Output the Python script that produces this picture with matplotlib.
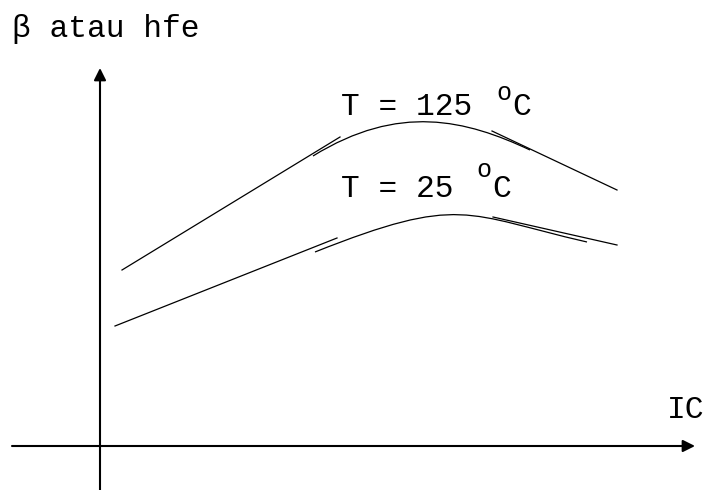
import matplotlib
matplotlib.use('Agg')
import matplotlib.pyplot as plt
from matplotlib.path import Path
from matplotlib.patches import PathPatch

# hfe vs IC sketch, arbitrary units (origin where the two axes cross)
# T = 125 C
hot_rise_ic = [22, 240]
hot_rise_hfe = [176, 309]
hot_bend_ic = [213, 299, 366, 430]
hot_bend_hfe = [290, 343, 326, 296]
hot_fall_ic = [392, 517]
hot_fall_hfe = [315, 256]

# T = 25 C
cold_rise_ic = [15, 237]
cold_rise_hfe = [120, 208]
cold_bend_ic = [215, 361, 365, 487]
cold_bend_hfe = [194, 252, 232, 204]
cold_fall_ic = [393, 517]
cold_fall_hfe = [229, 201]

mono = ['Liberation Mono', 'DejaVu Sans Mono']
fs = 22.5

fig = plt.figure(figsize=(7.04, 4.90), dpi=100)
ax = fig.add_axes([0, 0, 1, 1])
ax.set_xlim(-100, 604)
ax.set_ylim(-44, 446)
ax.axis('off')

# axes with arrow heads
arrow = dict(arrowstyle='-|>', lw=1.5, color='black', mutation_scale=18,
             shrinkA=0, shrinkB=0)
ax.annotate('', xy=(0, 378), xytext=(0, -44), arrowprops=arrow)
ax.annotate('', xy=(595, 0), xytext=(-88, 0), arrowprops=arrow)


def curve(rise_x, rise_y, bend_x, bend_y, fall_x, fall_y):
    ax.plot(rise_x, rise_y, color='black', lw=0.9)
    ax.plot(fall_x, fall_y, color='black', lw=0.9)
    verts = list(zip(bend_x, bend_y))
    codes = [Path.MOVETO, Path.CURVE4, Path.CURVE4, Path.CURVE4]
    ax.add_patch(PathPatch(Path(verts, codes), fill=False, lw=0.9,
                           edgecolor='black'))


curve(hot_rise_ic, hot_rise_hfe, hot_bend_ic, hot_bend_hfe, hot_fall_ic, hot_fall_hfe)
curve(cold_rise_ic, cold_rise_hfe, cold_bend_ic, cold_bend_hfe, cold_fall_ic, cold_fall_hfe)

# labels
ax.text(-88, 409, '\u03b2 atau hfe', family=mono, fontsize=fs, va='baseline')
ax.text(567, 28, 'IC', family=mono, fontsize=fs, va='baseline')

ax.text(241, 331, 'T = 125', family=mono, fontsize=fs, va='baseline')
ax.text(396, 346, 'o', family=mono, fontsize=18, va='baseline')
ax.text(412, 331, 'C', family=mono, fontsize=fs, va='baseline')

ax.text(241, 249, 'T = 25', family=mono, fontsize=fs, va='baseline')
ax.text(376, 269, 'o', family=mono, fontsize=18, va='baseline')
ax.text(392, 249, 'C', family=mono, fontsize=fs, va='baseline')

fig.savefig('out.png', dpi=100)
